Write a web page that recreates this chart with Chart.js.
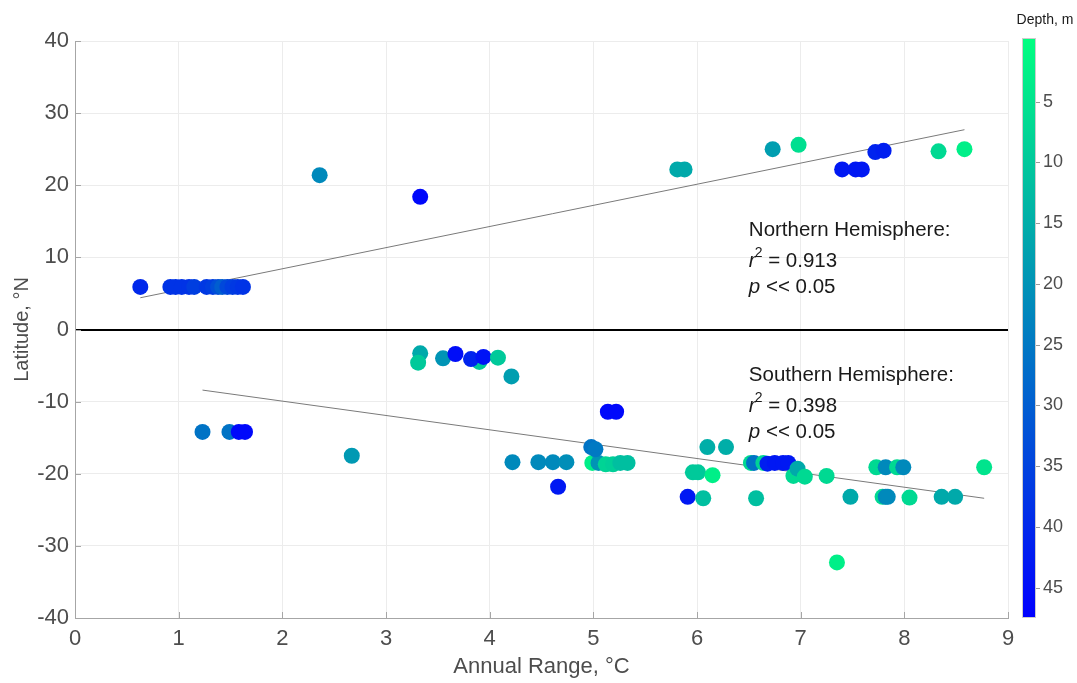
<!DOCTYPE html>
<html><head><meta charset="utf-8">
<script src="https://cdn.jsdelivr.net/npm/chart.js@4/dist/chart.umd.min.js"></script>
<style>html,body{margin:0;padding:0;background:#fff}#wrap{width:1077px;height:683px}</style>
</head><body><div id="wrap"><canvas id="c" width="1077" height="683"></canvas></div>
<script>
// ---- data ----
const annualRange = [
  0.63, 0.92, 0.97, 1.03, 1.10, 1.15, 1.27, 1.33, 1.38, 1.42, 1.47, 1.52, 1.57, 1.62,
  2.36, 3.33, 5.81, 5.88, 6.73, 6.98, 7.40, 7.53, 7.59, 7.72, 7.80, 8.33, 8.58,
  3.33, 3.31, 3.55, 3.67, 3.90, 3.82, 3.94, 4.08, 4.21,
  1.23, 1.49, 1.58, 1.64, 2.67,
  4.22, 4.47, 4.61, 4.74, 4.66, 5.14, 5.22,
  4.99, 5.05, 5.12, 5.19, 5.26, 5.33, 4.98, 5.02,
  5.96, 6.01, 6.15, 6.10, 6.28, 5.91, 6.06, 6.57,
  6.52, 6.55, 6.64, 6.68, 6.75, 6.83, 6.88, 6.93, 6.97, 7.04, 7.25, 7.35, 7.48,
  7.73, 7.82, 7.93, 7.99, 7.79, 7.82, 7.84, 8.05, 8.36, 8.49, 8.77
];
const latitude = [
  5.9, 5.9, 5.9, 5.9, 5.9, 5.9, 5.9, 5.9, 5.9, 5.9, 5.9, 5.9, 5.9, 5.9,
  21.4, 18.4, 22.2, 22.2, 25.0, 25.6, 22.2, 22.2, 22.2, 24.6, 24.8, 24.7, 25.0,
  -3.3, -4.6, -4.0, -3.4, -4.5, -4.1, -3.8, -3.9, -6.5,
  -14.2, -14.2, -14.2, -14.2, -17.5,
  -18.4, -18.4, -18.4, -18.4, -21.8, -11.4, -11.4,
  -18.5, -18.5, -18.7, -18.7, -18.5, -18.5, -16.3, -16.6,
  -19.8, -19.8, -20.2, -16.3, -16.3, -23.2, -23.4, -23.4,
  -18.5, -18.5, -18.5, -18.6, -18.5, -18.5, -18.5, -20.3, -19.3, -20.4, -20.3, -32.3, -23.2,
  -19.1, -19.1, -19.1, -19.1, -23.2, -23.2, -23.2, -23.3, -23.2, -23.2, -19.1
];
const depth = [
  40, 38, 38, 38, 38, 36, 37, 36, 33, 30, 34, 36, 37, 38,
  22, 46, 16, 16, 18, 6, 43, 43, 43, 41, 42, 7, 3,
  16, 10, 20, 45, 10, 41, 44, 10, 18,
  26, 26, 46, 46, 19,
  22, 22, 22, 21, 43, 46, 46,
  3, 20, 8, 9, 12, 12, 26, 25,
  10, 10, 3, 15, 15, 43, 12, 12,
  7, 26, 8, 42, 43, 43, 43, 7, 16, 7, 7, 3, 16,
  7, 22, 7, 22, 7, 22, 22, 7, 16, 16, 5
];
const northFitX = [0.63, 8.58];
const northFitY = [4.4, 27.7];
const southFitX = [1.23, 8.77];
const southFitY = [-8.4, -23.4];
const xTicks = [0,1,2,3,4,5,6,7,8,9];
const yTicks = [-40,-30,-20,-10,0,10,20,30,40];
const depthTicks = [5,10,15,20,25,30,35,40,45];
const depthMax = 47.5;
const northText = ['Northern Hemisphere:', '0.913', '0.05'];
const southText = ['Southern Hemisphere:', '0.398', '0.05'];

// ---- colormap (MATLAB winter, reversed with depth) ----
function winter(d){
  const t = 1 - d/depthMax;
  return 'rgb(0,' + Math.round(255*t) + ',' + Math.round(255*(1-0.5*t)) + ')';
}
const FONT = '"Liberation Sans", Arial, Helvetica, sans-serif';
const TICKC = '#4d4d4d';
const AXC = '#a6a6a6';

const points = annualRange.map((x,i)=>({x:x, y:latitude[i]}));
const colors = depth.map(winter);

function zeroPad(s){ s.paddingTop = 0; s.paddingBottom = 0; s.paddingLeft = 0; s.paddingRight = 0; }

const overlay = {
  id:'overlay',
  beforeDatasetsDraw(chart){
    const ctx = chart.ctx, xs = chart.scales.x, ys = chart.scales.y, a = chart.chartArea;
    ctx.save();
    ctx.strokeStyle = AXC; ctx.lineWidth = 1;
    xTicks.forEach(v=>{
      const x = Math.round(xs.getPixelForValue(v))+0.5;
      ctx.beginPath(); ctx.moveTo(x, a.bottom); ctx.lineTo(x, a.bottom-6); ctx.stroke();
    });
    yTicks.forEach(v=>{
      const y = Math.round(ys.getPixelForValue(v))+0.5;
      ctx.beginPath(); ctx.moveTo(a.left, y); ctx.lineTo(a.left+6, y); ctx.stroke();
    });
    ctx.restore();
  },
  afterDatasetsDraw(chart){
    const ctx = chart.ctx, xs = chart.scales.x, ys = chart.scales.y;
    function block(lines, yTop){
      const x0 = xs.getPixelForValue(6.5);
      ctx.save();
      ctx.fillStyle = '#1a1a1a';
      ctx.textBaseline = 'middle';
      ctx.textAlign = 'left';
      ctx.font = '20.5px ' + FONT;
      const y1 = ys.getPixelForValue(yTop);
      ctx.fillText(lines[0], x0, y1);
      const y2 = ys.getPixelForValue(yTop-4.3);
      ctx.font = 'italic 20.5px ' + FONT;
      ctx.fillText('r', x0, y2);
      let w = ctx.measureText('r').width;
      ctx.font = '14px ' + FONT;
      ctx.fillText('2', x0 + w - 1, y2 - 9);
      w += ctx.measureText('2').width - 1;
      ctx.font = '20.5px ' + FONT;
      ctx.fillText(' = ' + lines[1], x0 + w, y2);
      const y3 = ys.getPixelForValue(yTop-7.8);
      ctx.font = 'italic 20.5px ' + FONT;
      ctx.fillText('p', x0, y3);
      const w2 = ctx.measureText('p').width;
      ctx.font = '20.5px ' + FONT;
      ctx.fillText(' << ' + lines[2], x0 + w2, y3);
      ctx.restore();
    }
    block(northText, 13.7);
    block(southText, -6.4);
  },
  afterDraw(chart){
    const ctx = chart.ctx, ds = chart.scales.depth;
    const top = ds.getPixelForValue(0) - 3, bot = ds.getPixelForValue(depthMax);
    const x0 = 1022, w = 14;
    ctx.save();
    const g = ctx.createLinearGradient(0, top, 0, bot);
    g.addColorStop(0, winter(0));
    g.addColorStop(1, winter(depthMax));
    ctx.fillStyle = g;
    ctx.fillRect(x0, top, w, bot-top);
    ctx.strokeStyle = '#cccccc';
    ctx.lineWidth = 1;
    ctx.strokeRect(x0+0.5, top+0.5, w-1, bot-top-1);
    ctx.strokeStyle = '#9a9a9a';
    depthTicks.forEach(v=>{
      const y = Math.round(ds.getPixelForValue(v))+0.5;
      ctx.beginPath(); ctx.moveTo(x0+w, y); ctx.lineTo(x0+w+4, y); ctx.stroke();
    });
    ctx.fillStyle = '#1a1a1a';
    ctx.font = '14px ' + FONT;
    ctx.textAlign = 'center';
    ctx.textBaseline = 'middle';
    ctx.fillText('Depth, m', 1045, 20);
    ctx.restore();
  }
};

new Chart(document.getElementById('c'), {
  type:'scatter',
  data:{
    datasets:[
      {type:'line', data:northFitX.map((x,i)=>({x:x,y:northFitY[i]})), borderColor:'#7a7a7a', borderWidth:1, pointRadius:0, fill:false, order:2},
      {type:'line', data:southFitX.map((x,i)=>({x:x,y:southFitY[i]})), borderColor:'#7a7a7a', borderWidth:1, pointRadius:0, fill:false, order:2},
      {data:points, pointRadius:8, pointHoverRadius:8, backgroundColor:colors, borderColor:colors, borderWidth:0, order:1}
    ]
  },
  options:{
    responsive:false, animation:false,
    layout:{padding:{top:41, right:0, bottom:0, left:0}},
    plugins:{legend:{display:false}, tooltip:{enabled:false}},
    scales:{
      x:{
        type:'linear', min:0, max:9,
        afterBuildTicks(s){ s.ticks = xTicks.map(v=>({value:v})); },
        afterFit(s){ s.height = 65; zeroPad(s); },
        grid:{color:'#ececec', drawTicks:false},
        border:{color:AXC, width:1},
        ticks:{color:TICKC, padding:8, font:{family:FONT, size:22}},
        title:{display:true, text:'Annual Range, °C', color:TICKC, font:{family:FONT, size:22}, padding:{top:2, bottom:3}}
      },
      y:{
        type:'linear', min:-40, max:40, position:'left',
        afterBuildTicks(s){ s.ticks = yTicks.map(v=>({value:v})); },
        afterFit(s){ s.width = 75; zeroPad(s); },
        grid:{color:c=>c.tick && c.tick.value===0 ? '#000000' : '#ececec', lineWidth:c=>c.tick && c.tick.value===0 ? 2 : 1, drawTicks:false},
        border:{color:AXC, width:1},
        ticks:{color:TICKC, padding:6, font:{family:FONT, size:22}},
        title:{display:true, text:'Latitude, °N', color:TICKC, font:{family:FONT, size:20}, padding:{top:10, bottom:0}}
      },
      depth:{
        type:'linear', min:0, max:depthMax, reverse:true, position:'right',
        afterBuildTicks(s){ s.ticks = depthTicks.map(v=>({value:v})); },
        afterFit(s){ s.width = 69; zeroPad(s); },
        grid:{display:false, drawTicks:false},
        border:{display:false},
        ticks:{color:TICKC, padding:35, font:{family:FONT, size:18}}
      }
    }
  },
  plugins:[overlay]
});
</script></body></html>
